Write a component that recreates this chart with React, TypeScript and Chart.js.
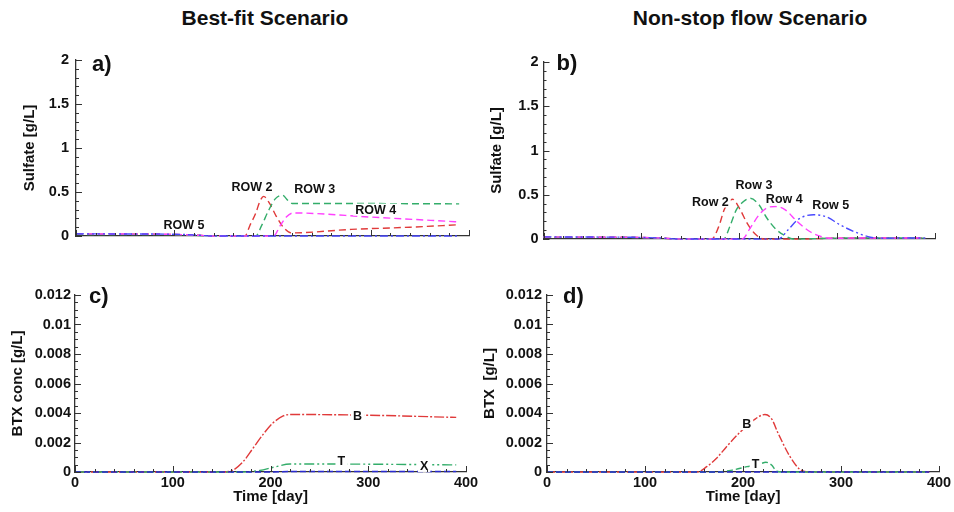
import React, { useEffect, useRef } from 'react';
import { Chart, registerables } from 'chart.js';
Chart.register(...registerables);

const FONT = "Arial, 'Liberation Sans', Helvetica, sans-serif";
const TEXT = '#111';
const AXIS = '#333';
const RED = '#e03a3a';
const GREEN = '#33ad6a';
const MAGENTA = '#ff40ff';
const BLUE = '#4a4aff';
const NAVY = '#2a2ad0';

// ---------- Panel a) Best-fit, sulfate ----------
const A_ROW2_T = [0, 50, 100, 125, 140, 172, 177, 183, 187, 191, 197, 204, 211, 219, 280, 340, 390];
const A_ROW2_V = [0.022, 0.02, 0.018, 0.008, 0, 0, 0.12, 0.26, 0.39, 0.45, 0.37, 0.22, 0.1, 0.035, 0.075, 0.1, 0.128];
const A_ROW3_T = [0, 50, 100, 125, 140, 183, 189, 196, 203, 210, 216, 220, 260, 320, 390];
const A_ROW3_V = [0.018, 0.017, 0.015, 0.006, 0, 0, 0.12, 0.29, 0.425, 0.463, 0.4, 0.37, 0.37, 0.368, 0.365];
const A_ROW4_T = [0, 50, 100, 125, 140, 201, 208, 214, 221, 300, 390];
const A_ROW4_V = [0.024, 0.022, 0.018, 0.008, 0, 0, 0.12, 0.215, 0.262, 0.215, 0.16];
const A_ROW5_T = [0, 50, 100, 120, 140, 390];
const A_ROW5_V = [0.025, 0.023, 0.02, 0.012, 0, 0];
const A_LABEL_TEXT = ['ROW 2', 'ROW 3', 'ROW 4', 'ROW 5'];
const A_LABEL_X = [179, 243, 305, 110];
const A_LABEL_Y = [0.554, 0.53, 0.3, 0.128];

// ---------- Panel b) Non-stop, sulfate ----------
const B_ROW2_T = [0, 50, 100, 120, 140, 172, 179, 185, 193, 201, 208, 216, 225, 260, 300, 350, 390];
const B_ROW2_V = [0.02, 0.02, 0.018, 0.01, 0, 0, 0.14, 0.34, 0.45, 0.33, 0.18, 0.06, 0, 0, 0.01, 0.012, 0.01];
const B_ROW3_T = [0, 50, 100, 120, 140, 184, 191, 197, 204, 211, 220, 228, 238, 248, 255, 300, 350, 390];
const B_ROW3_V = [0.018, 0.018, 0.015, 0.008, 0, 0, 0.16, 0.33, 0.42, 0.46, 0.39, 0.24, 0.105, 0.03, 0, 0.01, 0.012, 0.01];
const B_ROW4_T = [0, 50, 100, 120, 140, 203, 211, 220, 228, 237, 247, 259, 272, 286, 295, 330, 360, 390];
const B_ROW4_V = [0.022, 0.02, 0.017, 0.01, 0, 0, 0.12, 0.27, 0.35, 0.367, 0.33, 0.2, 0.085, 0.02, 0.008, 0.012, 0.01, 0.012];
const B_ROW5_T = [0, 50, 100, 120, 140, 240, 250, 260, 276, 289, 303, 317, 334, 345, 370, 390];
const B_ROW5_V = [0.024, 0.022, 0.018, 0.01, 0, 0, 0.105, 0.22, 0.274, 0.25, 0.16, 0.085, 0.02, 0.008, 0.012, 0.01];
const B_LABEL_TEXT = ['Row 2', 'Row 3', 'Row 4', 'Row 5'];
const B_LABEL_X = [170.5, 215, 246, 293.5];
const B_LABEL_Y = [0.423, 0.615, 0.446, 0.38];

// ---------- Panel c) Best-fit, BTX ----------
const C_B_T = [0, 152, 162, 172, 182, 193, 203, 213, 220, 300, 390];
const C_B_V = [0, 0, 0.00014, 0.0007, 0.0016, 0.0026, 0.00335, 0.0038, 0.0039, 0.00385, 0.0037];
const C_T_T = [0, 170, 189, 203, 220, 300, 390];
const C_T_V = [0, 0, 0.0001, 0.00032, 0.00054, 0.00053, 0.00048];
const C_X_T = [0, 200, 220, 390];
const C_X_V = [0, 0, 0.00003, 0.00003];
const C_LABEL_TEXT = ['B', 'T', 'X'];
const C_LABEL_X = [289, 272.4, 357.2];
const C_LABEL_Y = [0.0038, 0.00075, 0.00041];

// ---------- Panel d) Non-stop, BTX ----------
const D_B_T = [0, 153, 163, 173, 183, 197, 210.5, 222.4, 229.2, 236, 248, 258, 268, 390];
const D_B_V = [0, 0, 0.00036, 0.00093, 0.0017, 0.0027, 0.0035, 0.0039, 0.0036, 0.0026, 0.00104, 0.00018, 0, 0];
const D_T_T = [0, 173, 190, 204, 217, 223.4, 229.2, 234.3, 240, 390];
const D_T_V = [0, 0, 0.00014, 0.00036, 0.00054, 0.00066, 0.00047, 0.00005, 0, 0];
const D_X_T = [0, 390];
const D_X_V = [0, 0];
const D_LABEL_TEXT = ['B', 'T'];
const D_LABEL_X = [203.8, 212.7];
const D_LABEL_Y = [0.00325, 0.00054];

const DASH = [7, 4];
const DASH_DOT = [8, 3, 2, 3];
const DASH_DOT_DOT = [8, 3, 2, 3, 2, 3];

type Series = { t: number[]; v: number[]; color: string; dash: number[] };
type Panel = {
  key: string;
  box: { L: number; T: number; W: number; H: number };
  area: { l: number; t: number; r: number; b: number };
  yMax: number; yStep: number; yMinor: number;
  yTitle: string; yTitlePad: number; yTickPad: number;
  showX: boolean;
  series: Series[];
  labelText: string[]; labelX: number[]; labelY: number[];
  letter: string; letterDx: number; letterDy: number;
};

const PANELS: Panel[] = [
  {
    key: 'a', box: { L: 0, T: 30, W: 485, H: 230 }, area: { l: 76, t: 60, r: 469, b: 236 },
    yMax: 2, yStep: 0.5, yMinor: 0.1, yTitle: 'Sulfate [g/L]', yTitlePad: 21, yTickPad: 7, showX: false,
    series: [
      { t: A_ROW5_T, v: A_ROW5_V, color: BLUE, dash: DASH_DOT },
      { t: A_ROW4_T, v: A_ROW4_V, color: MAGENTA, dash: DASH },
      { t: A_ROW3_T, v: A_ROW3_V, color: GREEN, dash: DASH },
      { t: A_ROW2_T, v: A_ROW2_V, color: RED, dash: DASH },
    ],
    labelText: A_LABEL_TEXT, labelX: A_LABEL_X, labelY: A_LABEL_Y,
    letter: 'a)', letterDx: 16, letterDy: 5,
  },
  {
    key: 'b', box: { L: 477, T: 30, W: 477, H: 230 }, area: { l: 543.5, t: 62, r: 935, b: 239 },
    yMax: 2, yStep: 0.5, yMinor: 0.1, yTitle: 'Sulfate [g/L]', yTitlePad: 11, yTickPad: 5, showX: false,
    series: [
      { t: B_ROW5_T, v: B_ROW5_V, color: BLUE, dash: DASH_DOT_DOT },
      { t: B_ROW4_T, v: B_ROW4_V, color: MAGENTA, dash: DASH },
      { t: B_ROW3_T, v: B_ROW3_V, color: GREEN, dash: DASH },
      { t: B_ROW2_T, v: B_ROW2_V, color: RED, dash: DASH },
    ],
    labelText: B_LABEL_TEXT, labelX: B_LABEL_X, labelY: B_LABEL_Y,
    letter: 'b)', letterDx: 13, letterDy: 2,
  },
  {
    key: 'c', box: { L: 0, T: 265, W: 485, H: 247 }, area: { l: 75, t: 295, r: 466, b: 472 },
    yMax: 0.012, yStep: 0.002, yMinor: 0.0005, yTitle: 'BTX conc [g/L]', yTitlePad: 9, yTickPad: 4, showX: true,
    series: [
      { t: C_X_T, v: C_X_V, color: NAVY, dash: [6, 3] },
      { t: C_T_T, v: C_T_V, color: GREEN, dash: [10, 3, 2, 3, 2, 3] },
      { t: C_B_T, v: C_B_V, color: RED, dash: [10, 2, 2, 2] },
    ],
    labelText: C_LABEL_TEXT, labelX: C_LABEL_X, labelY: C_LABEL_Y,
    letter: 'c)', letterDx: 14, letterDy: 2,
  },
  {
    key: 'd', box: { L: 477, T: 265, W: 477, H: 247 }, area: { l: 547, t: 295, r: 939, b: 472 },
    yMax: 0.012, yStep: 0.002, yMinor: 0.0005, yTitle: 'BTX  [g/L]', yTitlePad: 4, yTickPad: 5, showX: true,
    series: [
      { t: D_X_T, v: D_X_V, color: NAVY, dash: [6, 3] },
      { t: D_T_T, v: D_T_V, color: GREEN, dash: [6, 3] },
      { t: D_B_T, v: D_B_V, color: RED, dash: [8, 2, 2, 2] },
    ],
    labelText: D_LABEL_TEXT, labelX: D_LABEL_X, labelY: D_LABEL_Y,
    letter: 'd)', letterDx: 16, letterDy: 2,
  },
];

const decorPlugin = {
  id: 'decor',
  afterDatasetsDraw(chart: any, _args: any, opts: any) {
    const { ctx } = chart;
    const xs = chart.scales.x;
    const ys = chart.scales.y;
    ctx.save();
    ctx.font = `bold 12.5px ${FONT}`;
    ctx.textAlign = 'center';
    ctx.textBaseline = 'middle';
    const texts: string[] = opts.labelText || [];
    texts.forEach((txt, i) => {
      const px = xs.getPixelForValue(opts.labelX[i]);
      const py = ys.getPixelForValue(opts.labelY[i]);
      const w = ctx.measureText(txt).width;
      ctx.fillStyle = '#fff';
      ctx.fillRect(px - w / 2 - 2, py - 6, w + 4, 12);
      ctx.fillStyle = TEXT;
      ctx.fillText(txt, px, py + 0.5);
    });
    ctx.restore();
  },
  afterDraw(chart: any, _args: any, opts: any) {
    const { ctx, chartArea } = chart;
    const xs = chart.scales.x;
    const ys = chart.scales.y;
    ctx.save();
    ctx.strokeStyle = AXIS;
    ctx.lineWidth = 1;
    const nx = Math.round((xs.max - xs.min) / opts.xMinor);
    const perX = Math.round(opts.xMajor / opts.xMinor);
    for (let i = 0; i <= nx; i++) {
      const v = xs.min + i * opts.xMinor;
      const px = Math.round(xs.getPixelForValue(v)) + 0.5;
      const len = i % perX === 0 ? 6 : 3;
      ctx.beginPath();
      ctx.moveTo(px, chartArea.bottom);
      ctx.lineTo(px, chartArea.bottom - len);
      ctx.stroke();
    }
    const ny = Math.round((ys.max - ys.min) / opts.yMinor);
    const perY = Math.round(opts.yMajor / opts.yMinor);
    for (let i = 0; i <= ny; i++) {
      const v = ys.min + i * opts.yMinor;
      const py = Math.round(ys.getPixelForValue(v)) + 0.5;
      const len = i % perY === 0 ? 6 : 3;
      ctx.beginPath();
      ctx.moveTo(chartArea.left, py);
      ctx.lineTo(chartArea.left + len, py);
      ctx.stroke();
    }
    ctx.fillStyle = TEXT;
    ctx.font = `bold 22px ${FONT}`;
    ctx.textAlign = 'left';
    ctx.textBaseline = 'middle';
    ctx.fillText(opts.letter, chartArea.left + opts.letterDx, chartArea.top + opts.letterDy);
    ctx.restore();
  },
};

const fmt = (v: number) => String(Number(v.toFixed(6)));

function buildConfig(p: Panel): any {
  return {
    type: 'line',
    data: {
      datasets: p.series.map((s) => ({
        data: s.t.map((x, j) => ({ x, y: s.v[j] })),
        borderColor: s.color,
        borderWidth: 1.4,
        borderDash: s.dash,
        pointRadius: 0,
        fill: false,
        cubicInterpolationMode: 'monotone',
        clip: false,
      })),
    },
    options: {
      responsive: false,
      maintainAspectRatio: false,
      animation: false,
      events: [],
      layout: {
        padding: { left: 0, top: p.area.t - p.box.T, right: p.box.L + p.box.W - p.area.r, bottom: 0 },
      },
      plugins: {
        legend: { display: false },
        tooltip: { enabled: false },
        decor: {
          xMinor: 20, xMajor: 100, yMinor: p.yMinor, yMajor: p.yStep,
          labelText: p.labelText, labelX: p.labelX, labelY: p.labelY,
          letter: p.letter, letterDx: p.letterDx, letterDy: p.letterDy,
        },
      },
      scales: {
        x: {
          type: 'linear', position: 'bottom', min: 0, max: 400,
          grid: { display: false, drawTicks: false, tickLength: 0 },
          border: { display: true, color: AXIS, width: 1.3 },
          ticks: {
            display: p.showX, stepSize: 100, padding: 2, color: TEXT, maxRotation: 0, autoSkip: false,
            font: { family: FONT, size: 14.5, weight: 'bold' }, callback: (v: number) => fmt(v),
          },
          title: {
            display: p.showX, text: 'Time [day]', color: TEXT,
            font: { family: FONT, size: 15, weight: 'bold' }, padding: { top: 0, bottom: 6 },
          },
          afterFit: (s: any) => {
            s.height = p.box.T + p.box.H - p.area.b;
            s.paddingLeft = 0; s.paddingRight = 0; s.paddingTop = 0; s.paddingBottom = 0;
          },
        },
        y: {
          type: 'linear', position: 'left', min: 0, max: p.yMax,
          grid: { display: false, drawTicks: false, tickLength: 0 },
          border: { display: true, color: AXIS, width: 1.3 },
          ticks: {
            stepSize: p.yStep, padding: p.yTickPad, color: TEXT, autoSkip: false,
            font: { family: FONT, size: 14.5, weight: 'bold' }, callback: (v: number) => fmt(v),
          },
          title: {
            display: true, text: p.yTitle, color: TEXT,
            font: { family: FONT, size: 15, weight: 'bold' }, padding: { top: p.yTitlePad, bottom: 0 },
          },
          afterFit: (s: any) => {
            s.width = p.area.l - p.box.L;
            s.paddingLeft = 0; s.paddingRight = 0; s.paddingTop = 0; s.paddingBottom = 0;
          },
        },
      },
    },
    plugins: [decorPlugin],
  };
}

export default function App() {
  const r0 = useRef<HTMLCanvasElement>(null);
  const r1 = useRef<HTMLCanvasElement>(null);
  const r2 = useRef<HTMLCanvasElement>(null);
  const r3 = useRef<HTMLCanvasElement>(null);
  const refs = [r0, r1, r2, r3];

  useEffect(() => {
    const charts = PANELS.map((p, i) => new Chart(refs[i].current as HTMLCanvasElement, buildConfig(p)));
    return () => charts.forEach((c) => c.destroy());
  }, []);

  const titleStyle: React.CSSProperties = {
    position: 'absolute', top: 7, transform: 'translateX(-50%)', fontWeight: 'bold',
    fontSize: '21px', lineHeight: '21px', whiteSpace: 'nowrap', color: TEXT, fontFamily: FONT,
  };

  return (
    <div style={{ position: 'absolute', left: 0, top: 0, width: 954, height: 512, overflow: 'hidden', background: '#fff' }}>
      <div style={{ ...titleStyle, left: 265 }}>Best-fit Scenario</div>
      <div style={{ ...titleStyle, left: 750 }}>Non-stop flow Scenario</div>
      {PANELS.map((p, i) => (
        <canvas
          key={p.key}
          ref={refs[i]}
          width={p.box.W}
          height={p.box.H}
          style={{ position: 'absolute', left: p.box.L, top: p.box.T, width: p.box.W, height: p.box.H }}
        />
      ))}
    </div>
  );
}
